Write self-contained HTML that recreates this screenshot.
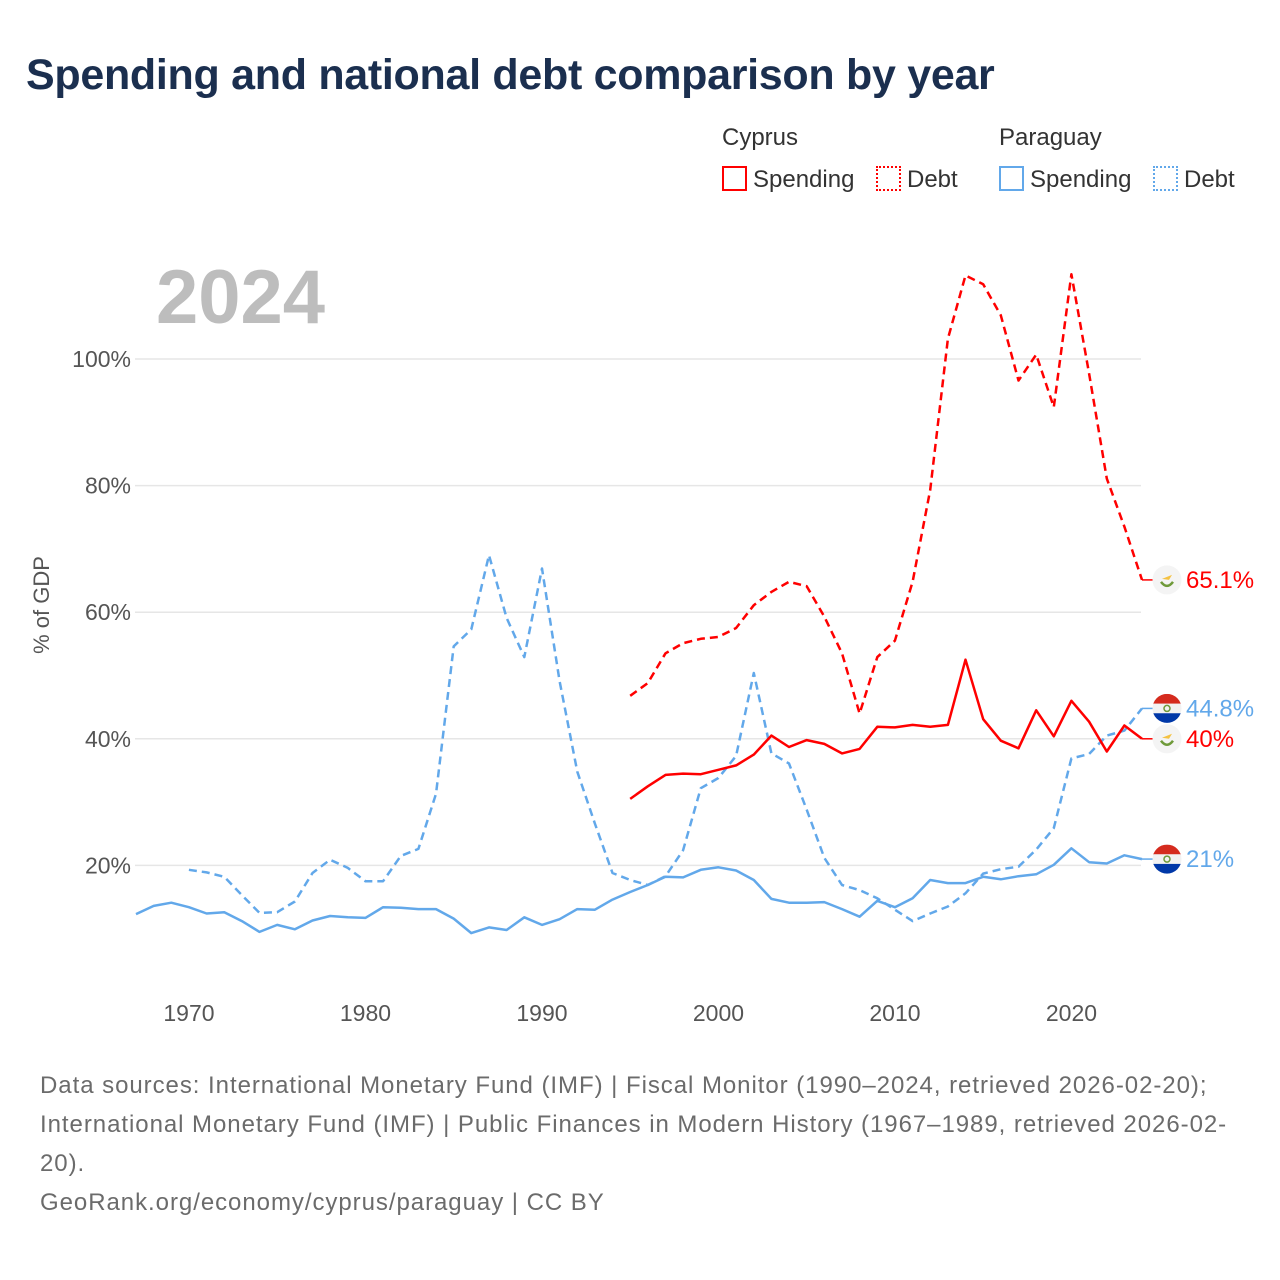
<!DOCTYPE html>
<html><head><meta charset="utf-8">
<style>
body{margin:0;background:#fff;font-family:"Liberation Sans",sans-serif;}
#wrap{position:relative;width:1280px;height:1280px;overflow:hidden;background:#fff;}
.t{position:absolute;white-space:nowrap;}
</style></head><body>
<div id="wrap">
<div class="t" style="left:26px;top:51px;font-size:43px;font-weight:bold;color:#1b2f4f;letter-spacing:-0.3px;">Spending and national debt comparison by year</div>
<div class="t" style="left:722px;top:124px;font-size:24px;color:#333;">Cyprus</div>
<div class="t" style="left:999px;top:124px;font-size:24px;color:#333;">Paraguay</div>
<div class="t" style="left:722px;top:166px;font-size:24px;color:#333;"><span style="display:inline-block;width:21px;height:21px;border:2px solid #f00;vertical-align:-4px;margin-right:6px;"></span>Spending</div>
<div class="t" style="left:876px;top:166px;font-size:24px;color:#333;"><span style="display:inline-block;width:21px;height:21px;border:2px dotted #f00;vertical-align:-4px;margin-right:6px;"></span>Debt</div>
<div class="t" style="left:999px;top:166px;font-size:24px;color:#333;"><span style="display:inline-block;width:21px;height:21px;border:2px solid #62a8ea;vertical-align:-4px;margin-right:6px;"></span>Spending</div>
<div class="t" style="left:1153px;top:166px;font-size:24px;color:#333;"><span style="display:inline-block;width:21px;height:21px;border:2px dotted #62a8ea;vertical-align:-4px;margin-right:6px;"></span>Debt</div>
<div class="t" style="left:156px;top:254px;font-size:76px;font-weight:bold;color:#bdbdbd;">2024</div>
<div class="t" style="left:42px;top:605px;font-size:22px;color:#555;transform:translate(-50%,-50%) rotate(-90deg);">% of GDP</div>
<svg id="chart" width="1280" height="1280" style="position:absolute;left:0;top:0;"></svg>
<div class="t" style="left:40px;top:1066px;font-size:24px;line-height:39px;color:#6b6b6b;letter-spacing:0.95px;">Data sources: International Monetary Fund (IMF) | Fiscal Monitor (1990–2024, retrieved 2026-02-20);<br>International Monetary Fund (IMF) | Public Finances in Modern History (1967–1989, retrieved 2026-02-<br>20).<br>GeoRank.org/economy/cyprus/paraguay | CC BY</div>
</div>
<script>
const yTicks=[20,40,60,80,100];
const xTicks=[1970,1980,1990,2000,2010,2020];
const pySpendYears=[1967,1968,1969,1970,1971,1972,1973,1974,1975,1976,1977,1978,1979,1980,1981,1982,1983,1984,1985,1986,1987,1988,1989,1990,1991,1992,1993,1994,1995,1996,1997,1998,1999,2000,2001,2002,2003,2004,2005,2006,2007,2008,2009,2010,2011,2012,2013,2014,2015,2016,2017,2018,2019,2020,2021,2022,2023,2024];
const pySpend=[12.3,13.6,14.1,13.4,12.4,12.6,11.2,9.5,10.6,9.9,11.3,12.0,11.8,11.7,13.4,13.3,13.1,13.1,11.6,9.3,10.2,9.8,11.8,10.6,11.5,13.1,13.0,14.6,15.8,16.9,18.2,18.1,19.3,19.7,19.2,17.7,14.7,14.1,14.1,14.2,13.1,11.9,14.4,13.4,14.8,17.7,17.2,17.2,18.2,17.8,18.3,18.6,20.1,22.7,20.5,20.3,21.6,21.0];
const pyDebtYears=[1970,1971,1972,1973,1974,1975,1976,1977,1978,1979,1980,1981,1982,1983,1984,1985,1986,1987,1988,1989,1990,1991,1992,1993,1994,1995,1996,1997,1998,1999,2000,2001,2002,2003,2004,2005,2006,2007,2008,2009,2010,2011,2012,2013,2014,2015,2016,2017,2018,2019,2020,2021,2022,2023,2024];
const pyDebt=[19.3,18.9,18.2,15.3,12.5,12.6,14.3,18.8,20.9,19.6,17.5,17.5,21.5,22.6,31.3,54.6,57.3,69.0,59.1,52.9,66.9,49.1,34.8,26.6,18.8,17.7,16.9,18.3,22.4,32.2,33.8,37.3,50.4,37.7,36.1,28.8,21.2,16.9,16.1,14.8,13.0,11.2,12.4,13.5,15.6,18.7,19.4,19.8,22.5,25.9,36.9,37.6,40.5,41.3,44.8];
const cyYears=[1995,1996,1997,1998,1999,2000,2001,2002,2003,2004,2005,2006,2007,2008,2009,2010,2011,2012,2013,2014,2015,2016,2017,2018,2019,2020,2021,2022,2023,2024];
const cySpend=[30.5,32.5,34.3,34.5,34.4,35.1,35.8,37.5,40.5,38.7,39.8,39.2,37.7,38.4,41.9,41.8,42.2,41.9,42.2,52.5,43.1,39.7,38.5,44.5,40.4,46.0,42.7,38.0,42.1,40.0];
const cyDebt=[46.8,48.8,53.5,55.1,55.8,56.1,57.5,61.1,63.2,64.8,64.1,59.3,53.5,44.0,52.9,55.5,64.8,79.3,103.2,113.2,111.8,106.9,96.6,100.7,92.4,113.4,97.7,81.1,73.5,65.1];
const endLabels=["65.1%","44.8%","40%","21%"];

const NS="http://www.w3.org/2000/svg";
const svg=document.getElementById('chart');
const X=yr=>136+(yr-1967)*17.65;
const Y=v=>992-v*6.33;
function mk(tag,attrs){const e=document.createElementNS(NS,tag);for(const k in attrs)e.setAttribute(k,attrs[k]);svg.appendChild(e);return e;}
yTicks.forEach(v=>{
  const g=mk('line',{x1:135,x2:1141,y1:Y(v),y2:Y(v),stroke:'#e6e6e6','stroke-width':1.5});
  
  
  const t=mk('text',{x:131,y:Y(v)+8,'text-anchor':'end','font-size':23,fill:'#555','font-family':'Liberation Sans, sans-serif'});
  t.textContent=v+'%';
  
  
});
xTicks.forEach(yr=>{
  const t=mk('text',{x:X(yr),y:1021,'text-anchor':'middle','font-size':23,fill:'#555','font-family':'Liberation Sans, sans-serif'});
  t.textContent=yr;
  
  
});
function line(years,vals,color,dash,name){
  const d=years.map((y,i)=>(i?'L':'M')+X(y).toFixed(1)+' '+Y(vals[i]).toFixed(1)).join(' ');
  const p=mk('path',{d:d,fill:'none',stroke:color,'stroke-width':2.5,'stroke-linejoin':'round'});
  if(dash)p.setAttribute('stroke-dasharray','8 5');
  
  
}
line(pyDebtYears,pyDebt,'#62a8ea',true,'paraguay-debt-line');
line(pySpendYears,pySpend,'#62a8ea',false,'paraguay-spending-line');
line(cyYears,cyDebt,'#ff0000',true,'cyprus-debt-line');
line(cyYears,cySpend,'#ff0000',false,'cyprus-spending-line');

function flag(cy,country){
  const cx=1167,r=14.5;
  if(country==='cy'){
    const c=mk('circle',{cx:cx,cy:cy,r:r,fill:'#f4f4f4'});
    
    
    mk('path',{d:`M${cx-5} ${cy-1} L${cx+5} ${cy-5} L${cx+2} ${cy} Z`,fill:'#f5c242'});
    mk('path',{d:`M${cx-6} ${cy+2} Q${cx} ${cy+10} ${cx+6} ${cy+2}`,fill:'none',stroke:'#6f9a3a','stroke-width':2.5});
  }else{
    const id='clip'+Math.round(cy);
    const cp=mk('clipPath',{id:id});
    const cc=document.createElementNS(NS,'circle');cc.setAttribute('cx',cx);cc.setAttribute('cy',cy);cc.setAttribute('r',r);cp.appendChild(cc);
    const g=mk('g',{'clip-path':`url(#${id})`});
    
    
    [['#d52b1e',0],['#f2f2f2',1],['#0038a8',2]].forEach(([f,i])=>{
      const rr=document.createElementNS(NS,'rect');rr.setAttribute('x',cx-r);rr.setAttribute('y',cy-r+i*2*r/3);rr.setAttribute('width',2*r);rr.setAttribute('height',2*r/3+0.5);rr.setAttribute('fill',f);g.appendChild(rr);
    });
    mk('circle',{cx:cx,cy:cy,r:3,fill:'none',stroke:'#6f9a3a','stroke-width':1.5});
  }
}
const ends=[[cyDebt[cyDebt.length-1],'cy','#ff0000'],[pyDebt[pyDebt.length-1],'py','#62a8ea'],[cySpend[cySpend.length-1],'cy','#ff0000'],[pySpend[pySpend.length-1],'py','#62a8ea']];
ends.forEach(([v,c,col],i)=>{
  const cy=Y(v);
  mk('line',{x1:1142,x2:1153,y1:cy,y2:cy,stroke:col,'stroke-width':1.5});
  flag(cy,c);
  const t=mk('text',{x:1186,y:cy+8,'font-size':24,fill:col,'font-family':'Liberation Sans, sans-serif'});
  t.textContent=endLabels[i];
  
  
});
</script>
</body></html>
